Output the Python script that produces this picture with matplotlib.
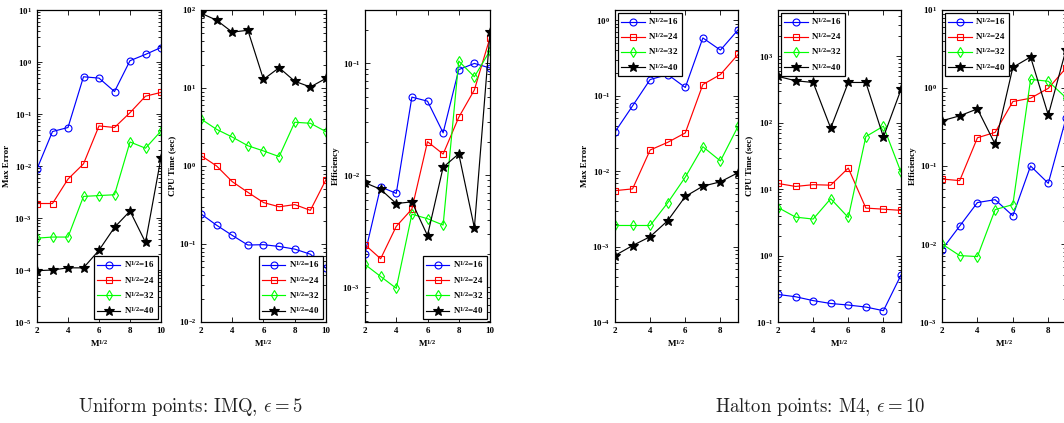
import matplotlib
matplotlib.use("Agg")
import matplotlib.pyplot as plt
from matplotlib.ticker import LogLocator, FixedLocator, NullFormatter

plt.rcParams['mathtext.fontset'] = 'custom'
plt.rcParams['mathtext.rm'] = 'Liberation Serif:bold'
plt.rcParams['mathtext.it'] = 'Liberation Serif:bold'
plt.rcParams['mathtext.bf'] = 'Liberation Serif:bold'
plt.rcParams['font.family'] = 'Liberation Serif'
plt.rcParams['font.weight'] = 'bold'

# ---------------- data ----------------
x_uni = [2, 3, 4, 5, 6, 7, 8, 9, 10]
x_hal = [2, 3, 4, 5, 6, 7, 8, 9]
labels = [r'N$^{1/2}$=16', r'N$^{1/2}$=24', r'N$^{1/2}$=32', r'N$^{1/2}$=40']

# Uniform points: IMQ, eps = 5
uni_err_16 = [0.0088, 0.046, 0.055, 0.52, 0.49, 0.27, 1.06, 1.4, 1.9]
uni_err_24 = [0.0019, 0.0019, 0.0056, 0.011, 0.059, 0.055, 0.106, 0.22, 0.26]
uni_err_32 = [4.1e-4, 4.3e-4, 4.3e-4, 0.0026, 0.0027, 0.0028, 0.029, 0.022, 0.047]
uni_err_40 = [9.7e-5, 1.0e-4, 1.1e-4, 1.1e-4, 2.4e-4, 6.6e-4, 0.00136, 3.4e-4, 0.0145]

uni_cpu_16 = [0.243, 0.174, 0.129, 0.097, 0.098, 0.093, 0.086, 0.074, 0.049]
uni_cpu_24 = [1.36, 1.0, 0.63, 0.46, 0.34, 0.30, 0.32, 0.27, 0.67]
uni_cpu_32 = [4.0, 2.95, 2.35, 1.82, 1.56, 1.32, 3.64, 3.53, 2.76]
uni_cpu_40 = [91, 74, 52, 55, 12.9, 18.2, 12.2, 10.3, 13.3]

uni_eff_16 = [0.0020, 0.0079, 0.0069, 0.050, 0.046, 0.024, 0.088, 0.10, 0.091]
uni_eff_24 = [0.0024, 0.0018, 0.0035, 0.0050, 0.020, 0.0155, 0.033, 0.058, 0.17]
uni_eff_32 = [0.0016, 0.00125, 0.00098, 0.0045, 0.0041, 0.0036, 0.105, 0.076, 0.13]
uni_eff_40 = [0.0086, 0.0075, 0.0056, 0.0058, 0.0029, 0.0118, 0.0156, 0.0034, 0.19]

# Halton points: M4, eps = 10
hal_err_16 = [0.033, 0.073, 0.163, 0.19, 0.128, 0.58, 0.40, 0.74]
hal_err_24 = [0.0055, 0.0058, 0.019, 0.024, 0.032, 0.14, 0.19, 0.35]
hal_err_32 = [0.0019, 0.0019, 0.0019, 0.0038, 0.0083, 0.021, 0.0136, 0.039]
hal_err_40 = [0.00076, 0.00103, 0.00135, 0.0022, 0.0046, 0.0063, 0.0072, 0.0095]

hal_cpu_16 = [0.26, 0.24, 0.21, 0.19, 0.18, 0.168, 0.148, 0.51]
hal_cpu_24 = [12.2, 11.0, 11.7, 11.5, 20.8, 5.2, 5.0, 4.8]
hal_cpu_32 = [5.3, 3.8, 3.55, 7.2, 3.75, 62, 89, 18]
hal_cpu_40 = [500, 430, 405, 83, 405, 405, 61, 318]

hal_eff_16 = [0.0085, 0.017, 0.034, 0.037, 0.023, 0.10, 0.060, 0.41]
hal_eff_24 = [0.068, 0.065, 0.23, 0.27, 0.67, 0.74, 0.99, 1.8]
hal_eff_32 = [0.010, 0.0071, 0.0069, 0.0276, 0.032, 1.29, 1.22, 0.75]
hal_eff_40 = [0.38, 0.44, 0.54, 0.19, 1.84, 2.5, 0.45, 3.1]

styles = [dict(color='blue', marker='o', mfc='none', ms=5),
          dict(color='red', marker='s', mfc='none', ms=4.5),
          dict(color='#00ff00', marker='d', mfc='none', ms=5.5),
          dict(color='black', marker='*', mfc='black', ms=7.5)]

W, H = 1064, 423
fig = plt.figure(figsize=(W / 100, H / 100), dpi=100)


def make_ax(left_px, right_px, x, series, ylim, ylabel, xlim, xticks, legloc):
    ax = fig.add_axes([left_px / W, 1 - 322 / H, (right_px - left_px) / W, 312 / H])
    for ys, st, lab in zip(series, styles, labels):
        ax.plot(x, ys, lw=0.85, mew=0.8, label=lab, **st)
    ax.set_yscale('log')
    ax.set_ylim(*ylim)
    ax.set_xlim(*xlim)
    ax.set_xticks(xticks)
    ax.xaxis.set_minor_locator(FixedLocator([]))
    ax.yaxis.set_major_locator(LogLocator(base=10, numticks=20))
    ax.yaxis.set_minor_locator(LogLocator(base=10, subs=range(2, 10), numticks=20))
    ax.yaxis.set_minor_formatter(NullFormatter())
    ax.tick_params(which='both', direction='in', top=True, right=True,
                   labelsize=6.5, width=0.6)
    ax.tick_params(which='major', length=3.5)
    ax.tick_params(which='minor', length=2)
    for s in ax.spines.values():
        s.set_linewidth(0.9)
    ax.set_ylabel(ylabel, fontsize=6.5, fontweight='bold', labelpad=2)
    ax.set_xlabel(r'M$^{1/2}$', fontsize=6.5, fontweight='bold', labelpad=2)
    leg = ax.legend(loc=legloc, fontsize=6.5, frameon=True, fancybox=False,
                    edgecolor='black', framealpha=1, handlelength=2.6,
                    borderpad=0.35, labelspacing=0.45, handletextpad=0.4,
                    borderaxespad=0.35)
    leg.get_frame().set_linewidth(0.9)
    return ax


xt_u = [2, 4, 6, 8, 10]
xt_h = [2, 4, 6, 8]
make_ax(37, 161, x_uni, [uni_err_16, uni_err_24, uni_err_32, uni_err_40],
        (1e-5, 10), 'Max Error', (2, 10), xt_u, 'lower right')
make_ax(201, 326, x_uni, [uni_cpu_16, uni_cpu_24, uni_cpu_32, uni_cpu_40],
        (1e-2, 100), 'CPU Time (sec)', (2, 10), xt_u, 'lower right')
make_ax(365, 490, x_uni, [uni_eff_16, uni_eff_24, uni_eff_32, uni_eff_40],
        (4.9e-4, 0.3), 'Efficiency', (2, 10), xt_u, 'lower right')

make_ax(615, 738, x_hal, [hal_err_16, hal_err_24, hal_err_32, hal_err_40],
        (1e-4, 1.36), 'Max Error', (2, 9), xt_h, 'upper left')
make_ax(778, 901, x_hal, [hal_cpu_16, hal_cpu_24, hal_cpu_32, hal_cpu_40],
        (0.1, 5000), 'CPU Time (sec)', (2, 9), xt_h, 'upper left')
make_ax(942, 1066, x_hal, [hal_eff_16, hal_eff_24, hal_eff_32, hal_eff_40],
        (1e-3, 10), 'Efficiency', (2, 9), xt_h, 'upper left')

fig.text(190 / W, 1 - 407 / H, r'Uniform points: IMQ, $\epsilon = 5$',
         family='cmr10', math_fontfamily='cm', fontweight='normal',
         fontsize=13.5, ha='center', va='center', color='#222222')
fig.text(820 / W, 1 - 407 / H, r'Halton points: M4, $\epsilon = 10$',
         family='cmr10', math_fontfamily='cm', fontweight='normal',
         fontsize=13.5, ha='center', va='center', color='#222222')

fig.savefig('out.png', dpi=100)
